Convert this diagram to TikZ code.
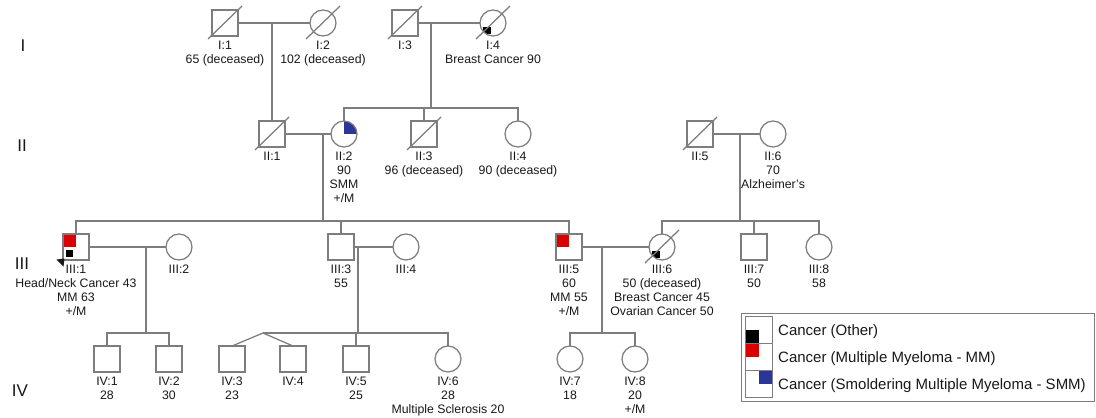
\documentclass[tikz,border=0pt]{standalone}
\usepackage{fontspec}
\setmainfont{Liberation Sans}
\definecolor{lc}{RGB}{125,125,125}
\definecolor{mmred}{RGB}{218,0,0}
\definecolor{smmblue}{RGB}{44,54,152}
\definecolor{tx}{RGB}{25,25,25}
\begin{document}
\begin{tikzpicture}[x=1pt,y=-1pt,
  ln/.style={draw=lc, line width=1.25pt},
  sym/.style={draw=lc, line width=1.25pt, fill=white, minimum size=26pt, inner sep=0pt, outer sep=0pt},
  male/.style={sym, rectangle},
  female/.style={sym, circle},
  mmq/.style={path picture={\fill[mmred] ([shift={(0.6pt,-0.6pt)}]path picture bounding box.north west) rectangle (path picture bounding box.center);}},
  mmblk/.style={path picture={\fill[mmred] ([shift={(0.6pt,-0.6pt)}]path picture bounding box.north west) rectangle (path picture bounding box.center);
      \fill[black] ([shift={(-10pt,-3pt)}]path picture bounding box.center) rectangle ([shift={(-3pt,-10pt)}]path picture bounding box.center);}},
  blk/.style={path picture={\fill[black] ([shift={(-10pt,-4pt)}]path picture bounding box.center) rectangle ([shift={(-2pt,-11pt)}]path picture bounding box.center);}},
  smm/.style={path picture={\fill[smmblue] (path picture bounding box.center) -- (path picture bounding box.north) -- (path picture bounding box.north east) -- (path picture bounding box.east) -- cycle;}},
  lbl/.style={font=\fontsize{12.3}{14}\selectfont, text=tx, align=center, inner sep=0pt, anchor=north},
  gen/.style={font=\fontsize{17}{19}\selectfont, text=tx, inner sep=0pt},
  legtxt/.style={font=\fontsize{15}{17}\selectfont, text=tx, anchor=west, inner sep=0pt},
  legbox/.style={draw=lc, line width=0.9pt, fill=white, minimum size=27pt, inner sep=0pt, outer sep=0pt, rectangle}
]
\useasboundingbox (0,0) rectangle (1096,418);
\fill[white] (0,0) rectangle (1096,418);

% generation labels
\node[gen] (gI) at (23,46) {I};
\node[gen] (gII) at (22,146) {II};
\node[gen] (gIII) at (22,264) {III};
\node[gen] (gIV) at (20,391) {IV};

% Generation I
\node[male] (I1) at (225,23) {};
\node[female] (I2) at (323,23) {};
\node[male] (I3) at (405,23) {};
\node[female, blk] (I4) at (493,23) {};

% Generation II
\node[male] (II1) at (272,134) {};
\node[female, smm] (II2) at (344,134) {};
\node[male] (II3) at (424,134) {};
\node[female] (II4) at (518,134) {};
\node[male] (II5) at (700,134) {};
\node[female] (II6) at (773,134) {};

% Generation III
\node[male, mmblk] (III1) at (76,247) {};
\node[female] (III2) at (179,247) {};
\node[male] (III3) at (341,247) {};
\node[female] (III4) at (406,247) {};
\node[male, mmq] (III5) at (569,247) {};
\node[female, blk] (III6) at (662,247) {};
\node[male] (III7) at (754,247) {};
\node[female] (III8) at (819,247) {};

% Generation IV
\node[male] (IV1) at (107,359) {};
\node[male] (IV2) at (169,359) {};
\node[male] (IV3) at (232,359) {};
\node[male] (IV4) at (293,359) {};
\node[male] (IV5) at (356,359) {};
\node[female] (IV6) at (448,359) {};
\node[female] (IV7) at (570,359) {};
\node[female] (IV8) at (635,359) {};

% deceased slashes
\foreach \n in {I1,I2,I3,I4,II1,II3,II5,III6}{
  \draw[ln] ([shift={(-17,16)}]\n.center) -- ([shift={(17,-17)}]\n.center);
}

% proband arrow
\fill[tx] (56.5,259.5) -- (64.5,258.5) -- (63.5,266.5) -- cycle;

% marriages and descents, generation I
\draw[ln] (I1) -- (I2);
\draw[ln] (II1.north) -- (II1.north |- I1.center);
\draw[ln] (I3) -- (I4);
\coordinate (sI34) at (431,108);
\draw[ln] (sI34) -- (sI34 |- I3.center);
\draw[ln] (II2.north) -- ++(0,-13) -| (II4.north);
\draw[ln] (II3.north) -- ++(0,-13);

% generation II
\draw[ln] (II1) -- (II2);
\draw[ln] (II5) -- (II6);
\coordinate (sII12) at (323,221);
\draw[ln] (sII12) -- (sII12 |- II1.center);
\coordinate (sII56) at (740,221);
\draw[ln] (sII56) -- (sII56 |- II5.center);
\draw[ln] (III1.north) -- ++(0,-13) -| (III5.north);
\draw[ln] (III3.north) -- ++(0,-13);
\draw[ln] (III6.north) -- ++(0,-13) -| (III8.north);
\draw[ln] (III7.north) -- ++(0,-13);

% generation III
\draw[ln] (III1) -- (III2);
\draw[ln] (III3) -- (III4);
\draw[ln] (III5) -- (III6);
\coordinate (sIII12) at (146,333);
\draw[ln] (sIII12) -- (sIII12 |- III1.center);
\coordinate (sIII34) at (358,333);
\draw[ln] (sIII34) -- (sIII34 |- III3.center);
\coordinate (sIII56) at (602,333);
\draw[ln] (sIII56) -- (sIII56 |- III5.center);

% generation IV sibships
\draw[ln] (IV1.north) -- ++(0,-13) -| (IV2.north);
\coordinate (tw) at (263,333);
\draw[ln] (IV3.north) -- (tw) -- (IV4.north);
\draw[ln] (tw) -| (IV6.north);
\draw[ln] (IV5.north) -- ++(0,-13);
\draw[ln] (IV7.north) -- ++(0,-13) -| (IV8.north);

% labels
\node[lbl] (I1t) at ([yshift=-5pt]I1.south) {I:1\\65 (deceased)};
\node[lbl] (I2t) at ([yshift=-5pt]I2.south) {I:2\\102 (deceased)};
\node[lbl] (I3t) at ([yshift=-5pt]I3.south) {I:3};
\node[lbl] (I4t) at ([yshift=-5pt]I4.south) {I:4\\Breast Cancer 90};
\node[lbl] (II1t) at ([yshift=-5pt]II1.south) {II:1};
\node[lbl] (II2t) at ([yshift=-5pt]II2.south) {II:2\\90\\SMM\\+/M};
\node[lbl] (II3t) at ([yshift=-5pt]II3.south) {II:3\\96 (deceased)};
\node[lbl] (II4t) at ([yshift=-5pt]II4.south) {II:4\\90 (deceased)};
\node[lbl] (II5t) at ([yshift=-5pt]II5.south) {II:5};
\node[lbl] (II6t) at ([yshift=-5pt]II6.south) {II:6\\70\\Alzheimer's};
\node[lbl] (III1t) at ([yshift=-5pt]III1.south) {III:1\\Head/Neck Cancer 43\\MM 63\\+/M};
\node[lbl] (III2t) at ([yshift=-5pt]III2.south) {III:2};
\node[lbl] (III3t) at ([yshift=-5pt]III3.south) {III:3\\55};
\node[lbl] (III4t) at ([yshift=-5pt]III4.south) {III:4};
\node[lbl] (III5t) at ([yshift=-5pt]III5.south) {III:5\\60\\MM 55\\+/M};
\node[lbl] (III6t) at ([yshift=-5pt]III6.south) {III:6\\50 (deceased)\\Breast Cancer 45\\Ovarian Cancer 50};
\node[lbl] (III7t) at ([yshift=-5pt]III7.south) {III:7\\50};
\node[lbl] (III8t) at ([yshift=-5pt]III8.south) {III:8\\58};
\node[lbl] (IV1t) at ([yshift=-5pt]IV1.south) {IV:1\\28};
\node[lbl] (IV2t) at ([yshift=-5pt]IV2.south) {IV:2\\30};
\node[lbl] (IV3t) at ([yshift=-5pt]IV3.south) {IV:3\\23};
\node[lbl] (IV4t) at ([yshift=-5pt]IV4.south) {IV:4};
\node[lbl] (IV5t) at ([yshift=-5pt]IV5.south) {IV:5\\25};
\node[lbl] (IV6t) at ([yshift=-5pt]IV6.south) {IV:6\\28\\Multiple Sclerosis 20};
\node[lbl] (IV7t) at ([yshift=-5pt]IV7.south) {IV:7\\18};
\node[lbl] (IV8t) at ([yshift=-5pt]IV8.south) {IV:8\\20\\+/M};

% legend
\node[draw=lc, line width=0.9pt, minimum width=353pt, minimum height=88pt, inner sep=0pt] (leg) at (918,357) {};
\node[legbox, path picture={\fill[black] (path picture bounding box.west) rectangle (path picture bounding box.south);}] (L1) at (758.5,329.5) {};
\node[legbox, path picture={\fill[mmred] (path picture bounding box.north west) rectangle (path picture bounding box.center);}] (L2) at (758.5,356.5) {};
\node[legbox, path picture={\fill[smmblue] (path picture bounding box.north) rectangle (path picture bounding box.east);}] (L3) at (758.5,383.5) {};
\node[legtxt] (L1t) at (778,332) {Cancer (Other)};
\node[legtxt] (L2t) at (778,359) {Cancer (Multiple Myeloma - MM)};
\node[legtxt] (L3t) at (778,386) {Cancer (Smoldering Multiple Myeloma - SMM)};
\end{tikzpicture}
\end{document}
